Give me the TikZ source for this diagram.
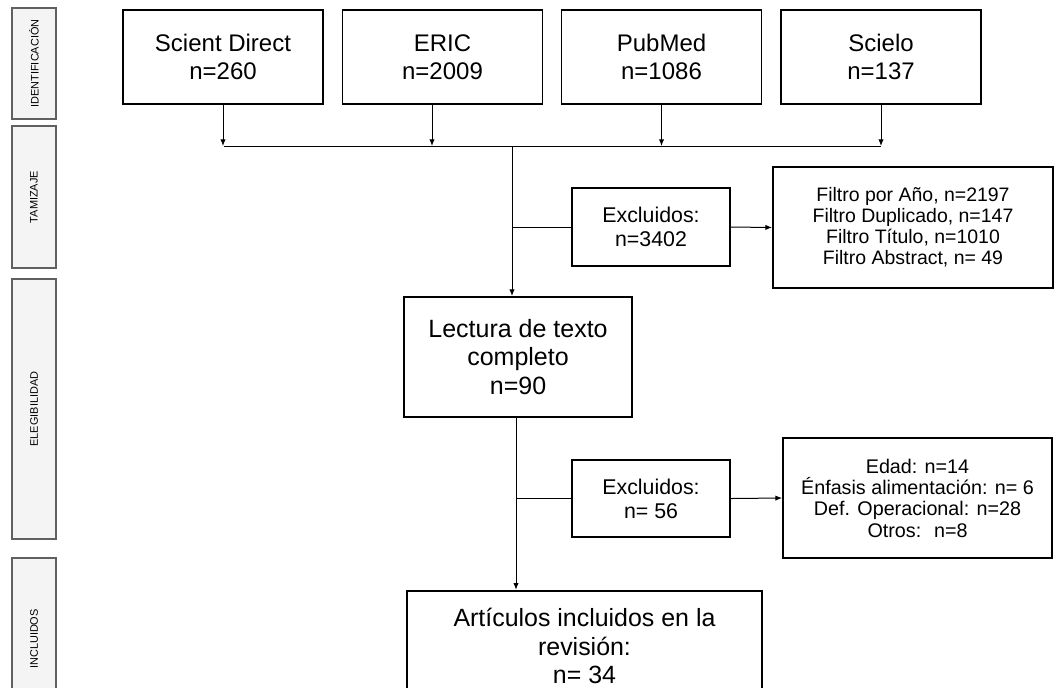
\documentclass[tikz,border=0pt]{standalone}
\usepackage{fontspec}
\setmainfont{Liberation Sans}
\usetikzlibrary{arrows.meta}

\begin{document}
\begin{tikzpicture}[x=0.75pt,y=-0.75pt,>={Latex[length=5pt,width=4pt]},
    box/.style={draw,line width=1.4pt,align=center,inner sep=0pt},
    phase/.style={draw=gray!75!black,fill=gray!9,line width=0.9pt,inner sep=0pt,
        rotate=90,minimum height=33pt,font=\fontsize{8.2}{9}\selectfont},
    link/.style={line width=0.75pt}]
        \clip (0,0) rectangle (1055,687);

        % Phase labels
        \node[phase,minimum width=83.25pt] (ident) at (34,63.5) {IDENTIFICACIÓN};
        \node[phase,minimum width=106.5pt] (tamiz) at (34,197) {TAMIZAJE};
        \node[phase,minimum width=195pt] (eleg) at (34,409) {ELEGIBILIDAD};
        \node[phase,minimum width=121.5pt] (incl) at (34,639) {INCLUIDOS};

        % Draw the sources
        \foreach \name/\x/\txt in {sd/223/{Scient Direct\\n=260}, eric/442.5/{ERIC\\n=2009},
            pm/661.5/{PubMed\\n=1086}, sci/881/{Scielo\\n=137}}
            \node[box,minimum width=150pt,minimum height=70.5pt,
                font=\fontsize{18}{21}\selectfont] (\name) at (\x,57) {\txt};

        % Draw the screening boxes
        \node[box,minimum width=118.5pt,minimum height=58.5pt,
            font=\fontsize{16}{18}\selectfont] (ex1) at (651,227) {Excluidos:\\n=3402};
        \node[box,minimum width=210pt,minimum height=90.75pt,
            font=\fontsize{14.6}{15.75}\selectfont] (filt) at (913,227.5)
            {Filtro por Año, n=2197\\Filtro Duplicado, n=147\\Filtro Título, n=1010\\Filtro Abstract, n= 49};
        \node[box,minimum width=171pt,minimum height=90pt,
            font=\fontsize{18.75}{21.5}\selectfont] (lect) at (518,357)
            {Lectura de texto\\completo\\n=90};

        % Draw the eligibility boxes
        \node[box,minimum width=118.5pt,minimum height=57.75pt,
            font=\fontsize{16}{18}\selectfont] (ex2) at (651,498.5) {Excluidos:\\n= 56};
        \node[box,minimum width=201.75pt,minimum height=90pt,
            font=\fontsize{14.8}{16}\selectfont] (edad) at (917.5,498)
            {Edad: n=14\\Énfasis alimentación: n= 6\\Def. Operacional: n=28\\Otros:~ n=8};
        \node[box,minimum width=266.25pt,minimum height=83pt,
            font=\fontsize{18.7}{21.4}\selectfont] (art) at (584.5,646)
            {Artículos incluidos en la\\revisión:\\n= 34};

        % Draw the connectors
        \coordinate (jl) at (224,146);
        \coordinate (jr) at (881,146);
        \coordinate (jm) at (512,146);
        \coordinate (ejx) at (432,0);
        \coordinate (sp) at (516,0);
        \draw[->,link] (sd.south) -- (sd.south |- jl);
        \draw[->,link] (eric.south -| ejx) -- (ejx |- jl);
        \draw[->,link] (pm.south) -- (pm.south |- jl);
        \draw[->,link] (sci.south) -- (sci.south |- jl);
        \draw[link] (jl) -- (jr);
        \draw[->,link] (jm) -- (jm |- lect.north);
        \draw[link] (jm |- ex1.west) -- (ex1.west);
        \draw[->,link] (ex1.east) -- (filt.west);
        \draw[->,link] (lect.south -| sp) -- (art.north -| sp);
        \draw[link] (sp |- ex2.west) -- (ex2.west);
        \draw[->,link] (ex2.east) -- (edad.west);
\end{tikzpicture}
\end{document}
